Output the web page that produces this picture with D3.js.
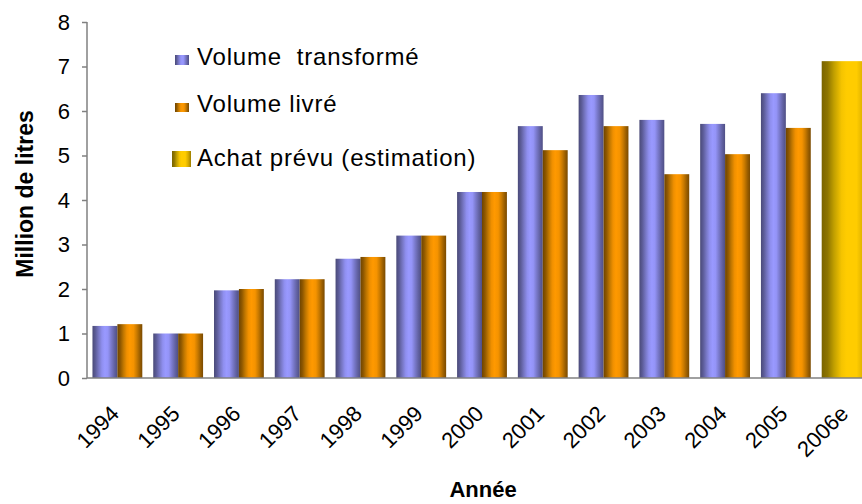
<!DOCTYPE html>
<html>
<head>
<meta charset="utf-8">
<script src="https://cdn.jsdelivr.net/npm/d3@7"></script>
<style>
  body { margin: 0; background: #fff; }
  svg { display: block; }
  svg text { font-family: "Liberation Sans", Arial, sans-serif; }
</style>
</head>
<body>
<div id="chart-area"></div>
<script>
// categories and values (million litres)
let years = ["1994","1995","1996","1997","1998","1999","2000","2001","2002","2003","2004","2005","2006e"];
let transforme = [1.17, 1.0, 1.97, 2.22, 2.68, 3.2, 4.18, 5.66, 6.36, 5.80, 5.71, 6.40, null];
let livre = [1.21, 1.0, 2.0, 2.22, 2.72, 3.2, 4.18, 5.12, 5.66, 4.58, 5.03, 5.62, null];
let achat = [null, null, null, null, null, null, null, null, null, null, null, null, 7.12];
let yTicks = [0, 1, 2, 3, 4, 5, 6, 7, 8];
let legendLabels = ["Volume  transformé", "Volume livré", "Achat prévu (estimation)"];

let W = 862, H = 504;
let plotLeft = 87, plotRight = 877, plotTop = 22, plotBottom = 378;

let svg = d3.select("#chart-area").append("svg")
    .attr("width", W)
    .attr("height", H);

let defs = svg.append("defs");

function grad(id, stops) {
    let g = defs.append("linearGradient")
        .attr("id", id)
        .attr("x1", "0%").attr("x2", "100%")
        .attr("y1", "0%").attr("y2", "0%");
    stops.forEach(s => g.append("stop").attr("offset", s[0]).attr("stop-color", s[1]));
}
grad("gPurple", [[0, "#4a4a78"], [0.12, "#5c5c98"], [0.25, "#7777c4"], [0.38, "#8f8fef"],
    [0.5, "#9999ff"], [0.62, "#9494f7"], [0.75, "#7a7acc"], [0.88, "#6262a3"], [1, "#4f4f85"]]);
grad("gOrange", [[0, "#6e4400"], [0.12, "#8f5800"], [0.25, "#c27800"], [0.38, "#f09000"],
    [0.5, "#ff9900"], [0.65, "#f59300"], [0.78, "#c97a00"], [0.9, "#9a5e00"], [1, "#7a4a00"]]);
grad("gYellow", [[0, "#7a6400"], [0.12, "#8f7600"], [0.25, "#c2a000"], [0.4, "#f5c400"],
    [0.5, "#ffcc00"], [0.7, "#ffcc00"], [0.85, "#d9ad00"], [1, "#9c7d00"]]);

let x = d3.scaleBand()
    .domain(years)
    .range([plotLeft, plotRight])
    .paddingInner(0.18)
    .paddingOuter(0.09);

let x1 = d3.scaleBand()
    .domain(["t", "l"])
    .range([0, x.bandwidth()]);

let y = d3.scaleLinear()
    .domain([0, 8])
    .range([plotBottom, plotTop]);

// bars
let series = [
    {key: "t", values: transforme, fill: "url(#gPurple)"},
    {key: "l", values: livre, fill: "url(#gOrange)"}
];

series.forEach(function(s) {
    svg.append("g").selectAll("rect")
        .data(years.map((yr, i) => ({year: yr, v: s.values[i]})).filter(d => d.v != null))
        .enter().append("rect")
        .attr("x", d => x(d.year) + x1(s.key))
        .attr("y", d => y(d.v))
        .attr("width", x1.bandwidth())
        .attr("height", d => y(0) - y(d.v))
        .attr("fill", s.fill);
});

svg.append("g").selectAll("rect")
    .data(years.map((yr, i) => ({year: yr, v: achat[i]})).filter(d => d.v != null))
    .enter().append("rect")
    .attr("x", d => x(d.year))
    .attr("y", d => y(d.v))
    .attr("width", x.bandwidth())
    .attr("height", d => y(0) - y(d.v))
    .attr("fill", "url(#gYellow)");

// y axis
let yAxis = d3.axisLeft(y)
    .tickValues(yTicks)
    .tickSize(5)
    .tickPadding(12)
    .tickFormat(d3.format("d"));

let yAxisGroup = svg.append("g")
    .attr("class", "y-axis axis")
    .attr("transform", "translate(" + plotLeft + ",0)")
    .call(yAxis);
yAxisGroup.select(".domain").attr("stroke", "#808080").attr("stroke-width", 1.5).attr("d", "M0," + plotTop + "V" + plotBottom);
yAxisGroup.selectAll(".tick line").attr("stroke", "#808080").attr("stroke-width", 1.5);
yAxisGroup.selectAll("text")
    .attr("font-size", 22)
    .attr("fill", "#000");

// x axis
let xAxis = d3.axisBottom(x).tickSize(0).tickPadding(0);
let xAxisGroup = svg.append("g")
    .attr("class", "x-axis axis")
    .attr("transform", "translate(0," + plotBottom + ")")
    .call(xAxis);
xAxisGroup.select(".domain").attr("stroke", "#808080").attr("stroke-width", 1.5).attr("d", "M" + plotLeft + ",0H" + W);
xAxisGroup.selectAll("text")
    .attr("font-size", 22)
    .attr("fill", "#000")
    .attr("text-anchor", "end")
    .attr("dy", null)
    .attr("transform", "translate(3,37) rotate(-45)");

// axis titles
svg.append("text")
    .attr("transform", "translate(33,194) rotate(-90)")
    .attr("text-anchor", "middle")
    .attr("font-size", 23)
    .attr("font-weight", "bold")
    .text("Million de litres");

svg.append("text")
    .attr("x", 483)
    .attr("y", 497)
    .attr("text-anchor", "middle")
    .attr("font-size", 22)
    .attr("font-weight", "bold")
    .text("Année");

// legend
let legendY = [65, 112, 166];
let swatch = [
    {x: 175, y: 55, w: 14, h: 10, fill: "url(#gPurple)"},
    {x: 175, y: 103, w: 14, h: 9, fill: "url(#gOrange)"},
    {x: 172, y: 151, w: 19, h: 16, fill: "url(#gYellow)"}
];

let legend = svg.selectAll("g.legend")
    .data(legendLabels)
    .enter().append("g")
    .attr("class", "legend");

legend.append("rect")
    .attr("x", (d, i) => swatch[i].x)
    .attr("y", (d, i) => swatch[i].y)
    .attr("width", (d, i) => swatch[i].w)
    .attr("height", (d, i) => swatch[i].h)
    .attr("fill", (d, i) => swatch[i].fill);

legend.append("text")
    .attr("x", 197)
    .attr("y", (d, i) => legendY[i])
    .attr("font-size", 24)
    .attr("letter-spacing", 0.8)
    .style("white-space", "pre")
    .text(d => d);
</script>
</body>
</html>
